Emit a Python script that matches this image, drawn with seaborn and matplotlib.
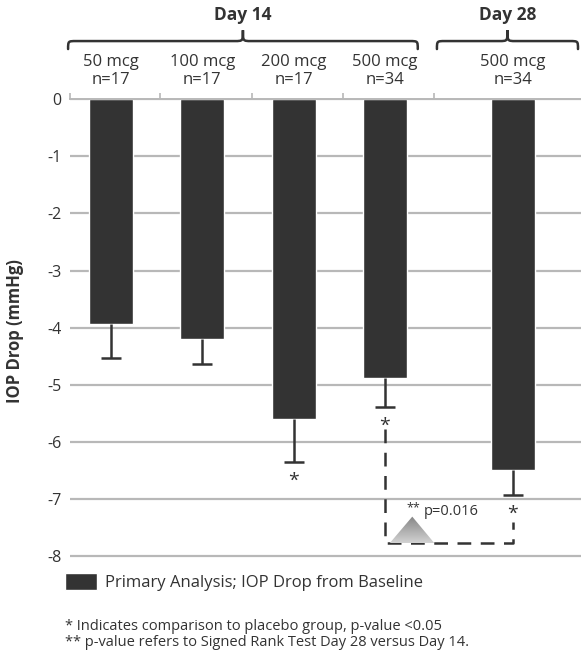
"""IOP drop by dose, Day 14 vs Day 28 bar chart."""
import numpy as np
import pandas as pd
import seaborn as sns
from matplotlib import pyplot as plt
from matplotlib.colors import LinearSegmentedColormap
from matplotlib.patches import PathPatch, Polygon
from matplotlib.path import Path

# data
doses = ["50 mcg", "100 mcg", "200 mcg", "500 mcg", "500 mcg"]
counts = ["n=17", "n=17", "n=17", "n=34", "n=34"]
positions = [0, 1, 2, 3, 4.4]
iop_drop = [-3.94, -4.20, -5.60, -4.89, -6.49]
err_low = [0.60, 0.43, 0.75, 0.50, 0.44]
vs_placebo = [False, False, True, True, True]
day_labels = ["Day 14", "Day 28"]
day_spans = [(-0.47, 3.36), (3.57, 5.115)]
y_ticks = [0, -1, -2, -3, -4, -5, -6, -7, -8]
p_value = "p=0.016"
legend_label = "Primary Analysis; IOP Drop from Baseline"
footnotes = [
    "* Indicates comparison to placebo group, p-value <0.05",
    "** p-value refers to Signed Rank Test Day 28 versus Day 14.",
]

BAR = "#333333"
GRID = "#b8b8b8"

sns.set_style("white")
plt.rcParams["font.family"] = ["Open Sans", "DejaVu Sans"]


def brace(ax, x0, x1, xm, y_tip, y_mid, y_peak, r=0.09):
    """Draw a curly brace opening downward over the plot."""
    verts = [
        (x0, y_tip), (x0, y_mid), (x0, y_mid), (x0 + r, y_mid),
        (xm - r, y_mid),
        (xm, y_mid), (xm, y_mid), (xm, y_peak),
        (xm, y_mid), (xm, y_mid), (xm + r, y_mid),
        (x1 - r, y_mid),
        (x1, y_mid), (x1, y_mid), (x1, y_tip),
    ]
    codes = [Path.MOVETO, Path.CURVE4, Path.CURVE4, Path.CURVE4,
             Path.LINETO,
             Path.CURVE4, Path.CURVE4, Path.CURVE4,
             Path.CURVE4, Path.CURVE4, Path.CURVE4,
             Path.LINETO,
             Path.CURVE4, Path.CURVE4, Path.CURVE4]
    ax.add_patch(PathPatch(Path(verts, codes), fc="none", ec=BAR, lw=1.8,
                           clip_on=False, capstyle="round"))


fig = plt.figure(figsize=(5.81, 6.52), dpi=100)
ax = fig.add_axes([0.1205, 0.1437, 0.8795, 0.704])

df = pd.DataFrame({"pos": positions, "drop": iop_drop})
sns.barplot(data=df, x="pos", y="drop", native_scale=True, width=0.48,
            color=BAR, saturation=1, errorbar=None, ax=ax,
            label=legend_label, zorder=2)

# lower error bars only: stem + cap at the low end
low_ends = [y - e for y, e in zip(iop_drop, err_low)]
ax.vlines(positions, iop_drop, low_ends, color=BAR, lw=1.8, zorder=3)
ax.plot(positions, low_ends, ls="none", marker="_", ms=14, mew=1.8,
        color=BAR, zorder=3)

# significance stars
for x, y, sig in zip(positions, low_ends, vs_placebo):
    if sig:
        ax.text(x, y - 0.33, "*", ha="center", va="center",
                fontsize=14, color=BAR)

# Day 28 vs Day 14 connector
y_link = -7.78
x_a, x_b = positions[3], positions[4]
ax.plot([x_a, x_a, x_b, x_b], [low_ends[3] - 0.39, y_link, y_link, -7.40],
        color=BAR, lw=1.8, ls=(0, (5.5, 3.8)), zorder=3)

tri = Polygon([[x_a + 0.05, y_link], [x_a + 0.30, -7.31],
               [x_a + 0.545, y_link]], closed=True, fc="none", ec="none")
ax.add_patch(tri)
cmap = LinearSegmentedColormap.from_list("tri", ["#d2d2d2", "#858585"])
im = ax.imshow(np.linspace(0, 1, 64).reshape(-1, 1), cmap=cmap,
               extent=[x_a + 0.05, x_a + 0.545, y_link, -7.31],
               origin="lower", aspect="auto", zorder=4)
im.set_clip_path(tri)
ax.text(x_a + 0.31, -7.15, "**", ha="center", va="center", fontsize=9,
        color=BAR)
ax.text(x_a + 0.43, -7.22, p_value, ha="left", va="center", fontsize=10.5,
        color=BAR)

# category labels and braces
for x, dose, n in zip(positions, doses, counts):
    ax.text(x, 0.65, dose, ha="center", va="center", fontsize=12,
            color=BAR, clip_on=False)
    ax.text(x, 0.33, n, ha="center", va="center", fontsize=12,
            color=BAR, clip_on=False)
for label, (x0, x1) in zip(day_labels, day_spans):
    xm = (x0 + x1) / 2
    brace(ax, x0, x1, xm, 0.88, 1.02, 1.21)
    ax.text(xm, 1.475, label, ha="center", va="center", fontsize=12.5,
            fontweight="bold", color=BAR, clip_on=False)

ax.set_xlim(-0.449, 5.148)
ax.set_ylim(-8.04, 0)
ax.set_yticks(y_ticks)
ax.set_yticklabels([str(t) for t in y_ticks])
ax.yaxis.grid(True, color=GRID, lw=1.6)
ax.set_axisbelow(True)
ax.tick_params(axis="y", length=0, pad=6, labelsize=11.5, labelcolor=BAR)
ax.xaxis.tick_top()
ax.set_xticks([-0.449, 0.54, 1.54, 2.54, 3.54])
ax.set_xticklabels([])
ax.tick_params(axis="x", length=4, width=1.2, color=GRID)
ax.set_xlabel("")
for side in ["left", "right", "bottom"]:
    ax.spines[side].set_visible(False)
ax.spines["top"].set_color(GRID)
ax.spines["top"].set_linewidth(1.4)

ax.set_ylabel("IOP Drop (mmHg)", fontsize=12, fontweight="bold", color=BAR)
ax.yaxis.set_label_coords(-0.09, 0.495)

ax.legend(loc="center left", bbox_to_anchor=(0.112, 1 - 582 / 652),
          bbox_transform=fig.transFigure, frameon=False, fontsize=12,
          handlelength=1.9, handleheight=1.25, handletextpad=0.5,
          borderpad=0, borderaxespad=0, labelcolor=BAR)
for i, note in enumerate(footnotes):
    fig.text(0.112, 1 - (626 + 16.5 * i) / 652, note, va="center",
             fontsize=10.5, color=BAR)

fig.savefig("out.png", dpi=100)
